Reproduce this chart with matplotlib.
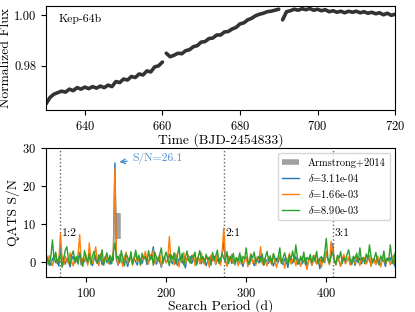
import numpy as np
import matplotlib
matplotlib.use("Agg")
import matplotlib.pyplot as plt

plt.rcParams['font.family'] = 'serif'
plt.rcParams['font.serif'] = ['cmr10']
plt.rcParams['mathtext.fontset'] = 'cm'
plt.rcParams['axes.formatter.use_mathtext'] = True
plt.rcParams['axes.unicode_minus'] = False

# light curve, three segments (time, normalized flux)
t1 = np.arange(630, 661)
f1 = [0.9650, 0.9675, 0.9688, 0.9694, 0.9700, 0.9696, 0.9708, 0.9702, 0.9714, 0.9708,
      0.9716, 0.9710, 0.9718, 0.9712, 0.9720, 0.9714, 0.9724, 0.9718, 0.9738, 0.9734,
      0.9748, 0.9744, 0.9758, 0.9754, 0.9768, 0.9764, 0.9780, 0.9776, 0.9796, 0.9800,
      0.9815]
t2 = np.arange(661, 691)
f2 = [0.9850, 0.9836, 0.9842, 0.9850, 0.9848, 0.9860, 0.9864, 0.9876, 0.9880, 0.9894,
      0.9896, 0.9908, 0.9910, 0.9922, 0.9922, 0.9934, 0.9936, 0.9946, 0.9952, 0.9966,
      0.9970, 0.9982, 0.9988, 0.9998, 1.0004, 1.0008, 1.0014, 1.0016, 1.0020, 1.0024]
t3 = np.arange(691, 721)
f3 = [0.9982, 1.0014, 1.0018, 1.0024, 1.0020, 1.0026, 1.0022, 1.0027, 1.0020, 1.0024,
      1.0018, 1.0022, 1.0014, 1.0018, 1.0012, 1.0016, 1.0010, 1.0016, 1.0012, 1.0016,
      1.0010, 1.0014, 1.0008, 1.0012, 1.0006, 1.0010, 1.0002, 1.0008, 1.0000, 1.0004]

# QATS search: periods (48..488 d, step 2) and S/N for three transit depths
periods = np.arange(48, 489, 2)
sn_a = [0.6, -0.4, 1.1, 0.2, -0.9, 0.8, 1.4, -0.2, 0.5, -1.1, 4.5, 0.3, 1.2, -0.6, 0.9, 0.1, -1.3, 0.7, 1.5, -0.3,
        0.4, 1.0, 1.8, -0.8, 0.6, 0.0, 1.3, -0.5, 2.0, 0.2, -1.0, 0.9, 1.6, -0.4, 0.5, 1.1, -0.7, 0.3, 1.4, -0.2,
        0.8, -0.6, 1.2, 0.4, 26.1, 0.6, -0.9, 1.0, 0.2, -0.5, 1.5, 0.3, -1.2, 0.7, 1.1, -0.3, 0.9, 0.0, -0.8, 1.3,
        0.5, -0.4, 1.0, 1.6, -0.7, 0.2, 0.9, 1.8, 4.0, 0.4, -0.6, 1.2, 0.1, -1.4, 0.8, 1.0, -0.2, 0.6, 2.0, 0.3,
        -0.5, 1.1, 0.4, -0.9, 0.7, 1.3, -0.3, 0.2, -1.6, 0.9, 0.5, 1.4, -0.4, 0.8, 0.1, -0.8, 1.2, 0.3, -0.5, 1.0,
        0.6, -1.0, 0.3, 1.1, -0.2, 0.8, 1.5, -0.6, 0.4, 1.0, -0.3, 2.2, 5.3, 0.2, -0.9, 0.7, 1.2, -0.4, 0.5, 0.0,
        1.0, -0.7, 0.4, 0.9, -1.2, 0.6, 1.3, 0.0, -0.5, 0.8, 0.3, -1.0, 1.1, 0.5, -0.3, 1.6, 0.2, -0.8, 0.7, 0.1,
        -0.4, 1.2, 0.3, -1.1, 0.6, 0.9, -0.2, 1.4, 0.0, -0.7, 0.8, 0.4, -1.5, 0.7, 1.1, -0.3, 0.5, 1.3, -0.6, 0.2,
        0.9, -0.5, 0.3, 1.0, -1.3, 0.4, 0.8, -0.9, 1.2, 0.2, -0.4, 0.7, -1.8, 0.5, 1.1, -0.2, 2.5, 0.6, -0.3, 1.5,
        4.8, 0.4, -0.8, 1.0, 0.3, -1.1, 0.7, 1.2, -0.4, 0.5, 0.9, -0.6, 0.2, 1.3, -0.9, 0.6, 0.1, 1.0, -0.5, 0.4,
        0.8, -0.3, 1.2, 0.5, -1.0, 0.3, 0.9, -0.6, 1.4, 0.0, -0.8, 0.7, 0.2, -1.2, 0.9, 0.4, 1.1, -0.4, 0.3, -1.3,
        0.2]
sn_b = [1.0, 0.2, -0.6, 1.7, 0.4, -1.0, 0.8, 2.2, -0.3, 0.6, 7.5, 0.9, -0.8, 1.5, 0.3, -0.4, 2.4, 0.1, -1.1, 1.2,
        0.5, 2.0, 7.2, -0.6, 1.0, 0.3, 1.8, -0.9, 5.0, 0.6, -0.4, 1.3, 4.0, 0.2, -1.0, 2.1, 0.7, -0.3, 1.4, 0.8,
        -0.5, 1.6, 0.3, 2.4, 24.5, 1.0, -0.7, 2.0, 0.4, -1.2, 1.1, 2.6, -0.4, 0.8, 1.5, -0.9, 0.5, 2.2, 0.0, 1.0,
        -1.0, 1.4, 0.6, 2.8, 0.2, -0.6, 1.9, 0.8, 3.2, -0.5, 1.2, 0.3, 2.0, -1.1, 0.9, 1.6, -0.2, 0.7, 6.7, 0.4,
        1.5, -0.8, 2.2, 0.5, -1.3, 1.0, 0.3, 2.5, -0.6, 0.8, 1.7, -0.2, 0.6, 2.0, -1.0, 0.9, 1.2, -0.5, 2.4, 0.1,
        -0.7, 1.3, 0.5, -1.4, 1.8, 0.2, 0.9, -0.6, 2.1, 0.4, -0.9, 2.8, 9.0, 0.6, -1.2, 1.5, 0.3, 2.0, -0.4, 0.8,
        1.1, -1.0, 0.7, 1.6, -0.5, 0.3, 1.2, -1.3, 0.8, 2.2, -0.2, 0.5, -0.9, 1.4, 0.6, 4.0, -0.6, 1.0, 0.2, -1.1,
        1.3, 0.4, -0.8, 2.0, 0.1, -1.5, 0.9, 1.6, -0.3, 0.7, -1.7, 1.1, 0.3, 2.3, -0.6, 0.5, 1.0, -1.0, 0.8, 0.2,
        -1.2, 0.9, 1.5, -0.4, -2.0, 0.6, 1.2, -0.9, 0.4, 1.8, -0.6, 0.2, 1.0, -1.4, 0.7, 0.3, 2.8, 0.5, -0.8, 5.4,
        3.0, 0.6, -0.7, 1.4, 0.2, -1.1, 1.0, 2.0, -0.5, 0.4, 1.3, -0.9, 0.8, 0.1, -0.4, 1.5, 0.6, -1.0, 0.9, 0.3,
        1.2, -0.6, 0.4, 1.7, -1.2, 0.8, 0.2, -0.7, 1.5, 0.5, -1.3, 0.9, 1.4, -0.5, 0.3, 1.0, -0.8, 0.6, 1.8, -0.4,
        0.5]
sn_c = [-0.3, 2.1, 0.8, -0.9, 1.5, 5.8, 0.4, 2.6, -0.5, 1.2, 2.0, -1.4, 0.9, 3.1, 4.0, 0.6, -0.8, 1.8, 2.9, 0.2,
        1.4, -0.6, 2.5, 0.7, -1.2, 3.0, 1.1, 0.0, 2.2, -0.7, 1.6, 2.8, 0.3, -0.4, 1.9, 0.5, 3.2, -0.9, 1.0, 2.4,
        0.1, 1.7, -0.5, 2.6, 5.0, 0.8, 1.5, -0.3, 3.0, 0.6, -1.0, 2.1, 1.2, 0.0, 2.7, -0.6, 1.3, 3.1, 0.4, 1.8,
        -0.7, 2.3, 0.9, 1.4, -0.2, 3.0, 0.5, 1.8, -0.9, 2.5, 1.0, 0.2, 2.0, 3.7, -0.4, 1.3, 2.6, 0.7, -1.0, 1.9,
        0.6, 2.4, -0.5, 1.5, 4.0, 0.3, 2.2, -0.8, 1.1, 2.9, 0.4, -0.3, 1.7, 0.9, 2.6, -0.6, 1.2, 3.0, 0.5, 1.4,
        -0.2, 2.0, 0.7, 1.3, -0.9, 2.5, 0.4, 1.6, 3.1, -0.4, 0.9, 2.2, 1.0, 0.1, 2.7, -0.5, 1.5, 0.6, 2.3, -0.8,
        1.1, 0.3, 2.4, -0.6, 1.4, 0.8, 3.7, 0.2, -0.7, 1.9, 1.0, 2.6, -0.3, 0.7, 1.5, 0.0, 2.1, -0.9, 1.2, 2.8,
        0.4, 1.6, -0.5, 2.2, 0.9, 0.1, 1.3, 3.7, -0.4, 1.0, 2.4, 0.5, -0.8, 1.8, 0.7, 2.9, 0.2, 4.5, 1.1, -0.6,
        1.5, 0.3, 2.6, -0.7, 1.2, 0.6, 2.0, -0.2, 1.7, 0.4, 2.8, -0.5, 0.9, 1.4, 0.0, 2.2, 6.2, 1.0, -0.3, 1.6,
        2.4, 0.5, -0.6, 1.8, 0.9, 2.7, -0.4, 1.1, 0.3, 2.0, 3.2, 0.6, -0.7, 1.5, 0.8, 2.3, -0.2, 3.7, 0.4, 1.2,
        -0.5, 2.1, 0.7, 4.5, 1.3, -0.3, 0.9, 2.5, 0.2, -0.8, 1.6, 0.5, 2.9, -0.4, 1.0, 0.3, 4.5, 0.8, -0.6, 2.4,
        1.0]
depth_labels = [r'$\delta$=3.11e-04', r'$\delta$=1.66e-03', r'$\delta$=8.90e-03']

p_planet = 136.0
harmonics = [0.5, 2.0, 3.0]
harm_labels = ['1:2', '2:1', '3:1']
arm_period = 140
arm_sn = [6.0, 13.0]

fig = plt.figure(figsize=(4.15, 3.12), dpi=100)
ax1 = fig.add_axes([0.111, 0.647, 0.841, 0.334])
ax2 = fig.add_axes([0.111, 0.112, 0.841, 0.413])

for t, f in [(t1, f1), (t2, f2), (t3, f3)]:
    ax1.plot(t, f, color='#333333', lw=2.6, solid_capstyle='round')
ax1.set_xlim(630, 720)
ax1.set_ylim(0.9625, 1.0037)
ax1.set_yticks([0.98, 1.00])
ax1.set_yticklabels(['0.98', '1.00'])
ax1.set_xticks([640, 660, 680, 700, 720])
ax1.set_xlabel('Time (BJD-2454833)', fontsize=9.8, labelpad=0)
ax1.set_ylabel('Normalized Flux', fontsize=9.8, labelpad=1.5)
ax1.text(0.035, 0.85, 'Kep-64b', transform=ax1.transAxes, fontsize=8.5)

for h, lab in zip(harmonics, harm_labels):
    ax2.axvline(h * p_planet, color='0.4', ls=':', lw=1)
    ax2.text(h * p_planet + 2, 7.6, lab, fontsize=8.5, va='center', ha='left')

ax2.plot([arm_period, arm_period], arm_sn, color='#a0a0a0', lw=4,
         solid_capstyle='butt', label='Armstrong+2014')
colors = ['#1f77b4', '#ff7f0e', '#2ca02c']
for s, c, lab in zip([sn_a, sn_b, sn_c], colors, depth_labels):
    ax2.plot(periods, s, color=c, lw=1.0, label=lab)

ax2.annotate('S/N=26.1', xy=(138, 26.3), xytext=(158, 27.3),
             color='#4a90d0', fontsize=8.3, va='center',
             arrowprops=dict(arrowstyle='->', color='#4a90d0', lw=1))
ax2.set_xlim(50, 486)
ax2.set_ylim(-4, 30)
ax2.set_yticks([0, 10, 20, 30])
ax2.set_xticks([100, 200, 300, 400])
ax2.set_xlabel('Search Period (d)', fontsize=9.8, labelpad=-0.5)
ax2.set_ylabel('QATS S/N', fontsize=9.8, labelpad=1.5)
ax2.legend(loc='upper right', fontsize=7.5, handlelength=1.7, labelspacing=0.4)

for ax in (ax1, ax2):
    ax.tick_params(labelsize=9)

fig.savefig('out.png', dpi=100)
